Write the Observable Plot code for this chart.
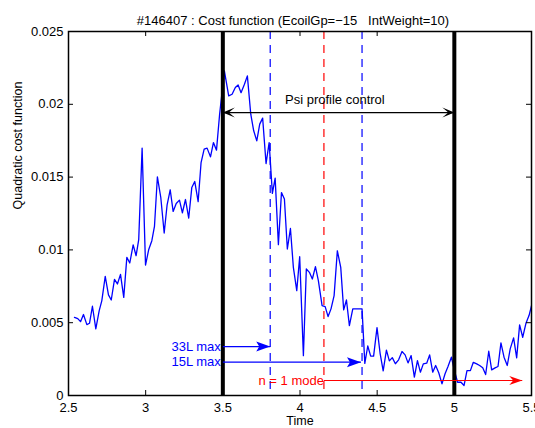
<!DOCTYPE html>
<html>
<head>
<meta charset="utf-8">
<script src="https://cdn.jsdelivr.net/npm/d3@7"></script>
<script src="https://cdn.jsdelivr.net/npm/@observablehq/plot@0.6"></script>
<style>
  body { margin: 0; background: #fff; }
  svg { display: block; }
</style>
</head>
<body>
<div id="chart"></div>
<script>
// Shot #146407: quadratic cost function vs time
const time = [
  2.539, 2.560, 2.578, 2.597, 2.619, 2.636, 2.655, 2.677, 2.699, 2.716,
  2.738, 2.759, 2.777, 2.798, 2.817, 2.837, 2.858, 2.878, 2.897, 2.919,
  2.938, 2.955, 2.977, 2.999, 3.020, 3.040, 3.057, 3.076, 3.098, 3.120,
  3.139, 3.159, 3.178, 3.198, 3.219, 3.238, 3.258, 3.279, 3.299, 3.318,
  3.340, 3.359, 3.379, 3.398, 3.420, 3.439, 3.459, 3.479, 3.510, 3.538,
  3.560, 3.581, 3.599, 3.618, 3.640, 3.659, 3.681, 3.700, 3.720, 3.739,
  3.758, 3.780, 3.800, 3.821, 3.839, 3.860, 3.880, 3.899, 3.918, 3.938,
  3.957, 3.979, 3.998, 4.022, 4.041, 4.061, 4.080, 4.100, 4.119, 4.143,
  4.163, 4.182, 4.201, 4.221, 4.242, 4.264, 4.283, 4.301, 4.320, 4.342,
  4.360, 4.380, 4.402, 4.420, 4.439, 4.458, 4.477, 4.499, 4.519, 4.539,
  4.560, 4.579, 4.598, 4.618, 4.639, 4.661, 4.681, 4.700, 4.720, 4.741,
  4.761, 4.780, 4.799, 4.821, 4.840, 4.860, 4.879, 4.899, 4.920, 4.940,
  4.959, 4.981, 5.001, 5.021, 5.043, 5.063, 5.082, 5.104, 5.123, 5.145,
  5.164, 5.184, 5.203, 5.223, 5.242, 5.264, 5.283, 5.302, 5.322, 5.343,
  5.362, 5.384, 5.404, 5.423, 5.443, 5.464, 5.484, 5.503
];
const cost = [
  0.00537, 0.00528, 0.00507, 0.00556, 0.00487, 0.00496, 0.00613, 0.00457, 0.00583, 0.00652,
  0.00818, 0.00691, 0.00656, 0.00798, 0.00766, 0.00832, 0.00674, 0.00949, 0.00910, 0.01034,
  0.00960, 0.01070, 0.01699, 0.00896, 0.01003, 0.01063, 0.01161, 0.01502, 0.01360, 0.01116,
  0.01310, 0.01413, 0.01264, 0.01319, 0.01342, 0.01255, 0.01346, 0.01219, 0.01429, 0.01470,
  0.01331, 0.01600, 0.01692, 0.01699, 0.01639, 0.01737, 0.01685, 0.01930, 0.02229, 0.02058,
  0.02069, 0.02115, 0.02133, 0.02080, 0.02138, 0.02195, 0.01932, 0.01818, 0.01749, 0.01864,
  0.01905, 0.01593, 0.01737, 0.01388, 0.01493, 0.01036, 0.01394, 0.01349, 0.01006, 0.01147,
  0.00880, 0.00720, 0.00953, 0.00274, 0.00869, 0.00846, 0.00800, 0.00885, 0.00789, 0.00617,
  0.00610, 0.00542, 0.00595, 0.00686, 0.00994, 0.00880, 0.00588, 0.00656, 0.00480, 0.00595,
  0.00595, 0.00595, 0.00595, 0.00220, 0.00340, 0.00270, 0.00270, 0.00466, 0.00290, 0.00169,
  0.00312, 0.00238, 0.00260, 0.00218, 0.00245, 0.00302, 0.00279, 0.00224, 0.00274, 0.00126,
  0.00240, 0.00160, 0.00217, 0.00222, 0.00279, 0.00160, 0.00206, 0.00156, 0.00080, 0.00149,
  0.00199, 0.00263, 0.00170, 0.00091, 0.00091, 0.00069, 0.00171, 0.00171, 0.00228, 0.00217,
  0.00206, 0.00190, 0.00144, 0.00304, 0.00176, 0.00190, 0.00199, 0.00361, 0.00263, 0.00206,
  0.00320, 0.00396, 0.00259, 0.00485, 0.00400, 0.00496, 0.00549, 0.00629
];

// Axis ticks
const xTicks = [2.5, 3, 3.5, 4, 4.5, 5, 5.5];
const yTicks = [0, 0.005, 0.01, 0.015, 0.02, 0.025];

// Event times
const controlWindow = [3.5, 5.0];      // psi profile control on / off
const coilLimits = [3.807, 4.402];     // 33L and 15L reach max
const modeOnset = [4.155];             // n = 1 mode appears

// Annotation arrows (time from, time to, cost level)
const psiArrow = [{from: 3.5, to: 5.0, at: 0.01943}];
const coilArrows = [
  {label: "33L max", from: 3.5, to: 3.807, at: 0.00336},
  {label: "15L max", from: 3.5, to: 4.395, at: 0.00229}
];
const modeArrow = [{label: "n = 1 mode", from: 4.155, to: 5.44, at: 0.00103}];
const psiLabel = [{label: "Psi profile control", t: 4.226, v: 0.0203}];

const titleText = "#146407 : Cost function (EcoilGp=\u221215\u00a0\u00a0 IntWeight=10)";
const xLabel = "Time";
const yLabel = "Quadratic cost function";

// Filled arrowhead with a notched back; tip sits on the anchor point.
function head(len, wid, notch, dir) {
  return {
    draw(ctx) {
      ctx.moveTo(0, 0);
      ctx.lineTo(-dir * len, -wid / 2);
      ctx.lineTo(-dir * (len - notch), 0);
      ctx.lineTo(-dir * len, wid / 2);
      ctx.closePath();
    }
  };
}

const series = time.map((t, i) => ({t, c: cost[i]}));
const FW = 463, FH = 364; // frame size in px
const font = "'Liberation Sans', Arial, Helvetica, sans-serif";

const chart = Plot.plot({
  width: 535,
  height: 428,
  marginLeft: 68,
  marginRight: 4,
  marginTop: 31,
  marginBottom: 33,
  style: {fontFamily: font, fontSize: "13px", background: "#fff", color: "#000"},
  x: {domain: [2.5, 5.5]},
  y: {domain: [0, 0.025]},
  marks: [
    Plot.ruleX(coilLimits, {stroke: "#0000ff", strokeWidth: 1.2, strokeDasharray: "8,6"}),
    Plot.ruleX(modeOnset, {stroke: "#ff0000", strokeWidth: 1.2, strokeDasharray: "8,6"}),
    Plot.line(series, {x: "t", y: "c", stroke: "#0000ff", strokeWidth: 1.3, clip: true}),
    Plot.ruleX(controlWindow, {stroke: "#000", strokeWidth: 4}),

    // psi profile control span
    Plot.link(psiArrow, {x1: "from", x2: "to", y1: "at", y2: "at", stroke: "#000", strokeWidth: 1.2}),
    Plot.dot(psiArrow, {x: "from", y: "at", symbol: head(12, 10, 6, -1), fill: "#000", stroke: "none"}),
    Plot.dot(psiArrow, {x: "to", y: "at", symbol: head(12, 10, 6, 1), fill: "#000", stroke: "none"}),
    Plot.text(psiLabel, {x: "t", y: "v", text: "label", fill: "#000", fontSize: 13}),

    // coil current limits
    Plot.link(coilArrows, {x1: "from", x2: "to", y1: "at", y2: "at", stroke: "#0000ff", strokeWidth: 1.2}),
    Plot.dot(coilArrows, {x: "to", y: "at", symbol: head(14, 10, 3, 1), fill: "#0000ff", stroke: "none"}),
    Plot.text(coilArrows, {x: "from", y: "at", text: "label", textAnchor: "end", dx: -2, fill: "#0000ff", fontSize: 13}),

    // n = 1 mode
    Plot.link(modeArrow, {x1: "from", x2: "to", y1: "at", y2: "at", stroke: "#ff0000", strokeWidth: 1.2}),
    Plot.dot(modeArrow, {x: "to", y: "at", symbol: head(13, 9, 4, 1), fill: "#ff0000", stroke: "none"}),
    Plot.text(modeArrow, {x: "from", y: "at", text: "label", textAnchor: "end", dx: 0, fill: "#ff0000", fontSize: 13}),

    // box and inward ticks on all four sides
    Plot.frame({stroke: "#000", strokeWidth: 1.5}),
    Plot.tickX(xTicks, {x: d => d, insetTop: FH - 5, stroke: "#000"}),
    Plot.tickX(xTicks, {x: d => d, insetBottom: FH - 5, stroke: "#000"}),
    Plot.tickY(yTicks, {y: d => d, insetRight: FW - 5, stroke: "#000"}),
    Plot.tickY(yTicks, {y: d => d, insetLeft: FW - 5, stroke: "#000"}),
    Plot.axisX(xTicks, {tickSize: 0, tickPadding: 7, tickFormat: d => String(d), label: null, fontSize: 13}),
    Plot.axisY(yTicks, {tickSize: 0, tickPadding: 5, tickFormat: d => String(d), label: null, fontSize: 13}),

    // title and axis titles
    Plot.text([titleText], {text: d => d, frameAnchor: "top", dy: -16, dx: -7, fontSize: 13, fill: "#000"}),
    Plot.text([xLabel], {text: d => d, frameAnchor: "bottom", dy: 29, fontSize: 12.5, fill: "#000"}),
    Plot.text([yLabel], {text: d => d, frameAnchor: "left", rotate: -90, dx: -51, dy: -4, fontSize: 12.5, fill: "#000"})
  ]
});

document.getElementById("chart").appendChild(chart);
</script>
</body>
</html>
